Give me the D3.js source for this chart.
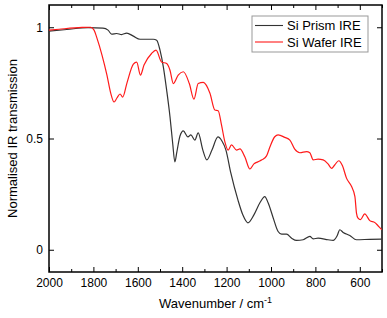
<!DOCTYPE html>
<html>
<head>
<meta charset="utf-8">
<script src="https://cdn.jsdelivr.net/npm/d3@7"></script>
<style>
  body { margin: 0; background: #fff; }
  svg text { font-family: "Liberation Sans", Arial, sans-serif; fill: #000; }
</style>
</head>
<body>
<div id="chart"></div>
<script>
// Chart size and plot frame
const width = 387, height = 318;
const margin = { top: 5, right: 5, bottom: 46, left: 49 };

// Data (wavenumber, normalised transmission)
const prismWave = [2000, 1920, 1824, 1757, 1734, 1718, 1695, 1673, 1650, 1620, 1590, 1530, 1515, 1500, 1485, 1470, 1455, 1443, 1433, 1424, 1410, 1395, 1374, 1361, 1343, 1328, 1307, 1289, 1266, 1239, 1221, 1203, 1181, 1149, 1127, 1104, 1077, 1050, 1028, 1013, 990, 968, 952, 930, 907, 885, 855, 825, 810, 788, 743, 720, 702, 690, 675, 645, 615, 555, 501];
const prismValue = [0.983, 0.990, 0.998, 0.996, 0.987, 0.969, 0.972, 0.967, 0.974, 0.960, 0.946, 0.946, 0.942, 0.897, 0.822, 0.717, 0.598, 0.480, 0.395, 0.440, 0.511, 0.534, 0.507, 0.516, 0.493, 0.525, 0.448, 0.404, 0.448, 0.507, 0.489, 0.448, 0.345, 0.224, 0.157, 0.121, 0.157, 0.211, 0.239, 0.211, 0.143, 0.082, 0.070, 0.070, 0.052, 0.042, 0.045, 0.060, 0.049, 0.052, 0.045, 0.042, 0.063, 0.090, 0.078, 0.064, 0.045, 0.047, 0.048];

const waferWave = [2000, 1955, 1851, 1812, 1797, 1784, 1761, 1739, 1722, 1707, 1694, 1680, 1668, 1649, 1620, 1605, 1588, 1572, 1538, 1518, 1493, 1470, 1455, 1440, 1418, 1395, 1368, 1347, 1328, 1305, 1275, 1253, 1238, 1223, 1208, 1193, 1178, 1155, 1140, 1118, 1095, 1077, 1059, 1041, 1020, 1005, 983, 968, 938, 915, 893, 870, 840, 825, 810, 788, 765, 743, 727, 713, 695, 678, 660, 637, 622, 615, 608, 597, 578, 555, 532, 518, 501];
const waferValue = [0.987, 0.991, 0.999, 1.000, 0.987, 0.951, 0.874, 0.785, 0.704, 0.664, 0.682, 0.700, 0.686, 0.749, 0.834, 0.843, 0.785, 0.830, 0.882, 0.897, 0.844, 0.837, 0.807, 0.747, 0.785, 0.800, 0.747, 0.677, 0.747, 0.752, 0.703, 0.628, 0.625, 0.561, 0.486, 0.448, 0.471, 0.448, 0.453, 0.418, 0.363, 0.386, 0.395, 0.404, 0.422, 0.462, 0.508, 0.516, 0.505, 0.493, 0.452, 0.436, 0.441, 0.436, 0.404, 0.407, 0.404, 0.386, 0.366, 0.381, 0.400, 0.377, 0.322, 0.284, 0.239, 0.165, 0.142, 0.135, 0.161, 0.131, 0.122, 0.108, 0.090];

const xMajorTicks = [2000, 1800, 1600, 1400, 1200, 1000, 800, 600];
const xMinorTicks = [1900, 1700, 1500, 1300, 1100, 900, 700, 500];
const yTicks = [0, 0.5, 1];
const yTickLabels = ["0", "0.5", "1"];

const seriesNames = ["Si Prism IRE", "Si Wafer IRE"];
const seriesColors = ["#333333", "#ff1a1a"];

const series = [
    prismWave.map((w, i) => ({ w: w, v: prismValue[i] })),
    waferWave.map((w, i) => ({ w: w, v: waferValue[i] }))
];

const svg = d3.select("#chart").append("svg")
    .attr("width", width)
    .attr("height", height);

const x = d3.scaleLinear().domain([2000, 500]).range([margin.left, width - margin.right]);
const y = d3.scaleLinear().domain([-0.1, 1.1]).range([height - margin.bottom, margin.top]);

// bottom axis, ticks pointing inward
svg.append("g")
    .attr("transform", `translate(0,${height - margin.bottom})`)
    .call(d3.axisBottom(x).tickValues(xMajorTicks).tickSize(-5).tickPadding(6).tickFormat(d3.format("d")));
svg.append("g")
    .attr("transform", `translate(0,${height - margin.bottom})`)
    .call(d3.axisBottom(x).tickValues(xMinorTicks).tickSize(-3).tickFormat(""));

// top axis
svg.append("g")
    .attr("transform", `translate(0,${margin.top})`)
    .call(d3.axisTop(x).tickValues(xMajorTicks).tickSize(-5).tickFormat(""));
svg.append("g")
    .attr("transform", `translate(0,${margin.top})`)
    .call(d3.axisTop(x).tickValues(xMinorTicks).tickSize(-3).tickFormat(""));

// left and right axes
svg.append("g")
    .attr("transform", `translate(${margin.left},0)`)
    .call(d3.axisLeft(y).tickValues(yTicks).tickSize(-5).tickPadding(6).tickFormat((d, i) => yTickLabels[i]));
svg.append("g")
    .attr("transform", `translate(${width - margin.right},0)`)
    .call(d3.axisRight(y).tickValues(yTicks).tickSize(-5).tickFormat(""));

svg.selectAll(".domain").remove();
svg.selectAll(".tick line").attr("stroke", "#000");
svg.selectAll(".tick text").style("font-size", "12px");

// frame
svg.append("rect")
    .attr("x", margin.left)
    .attr("y", margin.top)
    .attr("width", width - margin.left - margin.right)
    .attr("height", height - margin.top - margin.bottom)
    .attr("fill", "none")
    .attr("stroke", "#000")
    .attr("stroke-width", 1.5);

// curves
const line = d3.line()
    .x(d => x(d.w))
    .y(d => y(d.v))
    .curve(d3.curveMonotoneX);

svg.selectAll("path.spectrum")
    .data(series)
    .enter().append("path")
    .attr("class", "spectrum")
    .attr("d", d => line(d))
    .attr("fill", "none")
    .attr("stroke", (d, i) => seriesColors[i])
    .attr("stroke-width", 1.2);

// legend
const legend = svg.append("g").attr("transform", "translate(252,16)");
legend.append("rect")
    .attr("width", 116).attr("height", 36)
    .attr("fill", "#fff")
    .attr("stroke", "#999")
    .attr("stroke-width", 1);
seriesNames.forEach((name, i) => {
    const ly = 9.5 + i * 16.5;
    legend.append("line")
        .attr("x1", 3).attr("x2", 31)
        .attr("y1", ly).attr("y2", ly)
        .attr("stroke", seriesColors[i])
        .attr("stroke-width", 1.1);
    legend.append("text")
        .attr("x", 35).attr("y", ly + 4.5)
        .style("font-size", "13px")
        .text(name);
});

// axis titles
svg.append("text")
    .attr("x", (margin.left + width - margin.right) / 2)
    .attr("y", 308)
    .attr("text-anchor", "middle")
    .style("font-size", "13px")
    .text("Wavenumber / cm")
    .append("tspan")
    .attr("dy", -5)
    .style("font-size", "9px")
    .text("-1");

svg.append("text")
    .attr("transform", `translate(17,${(margin.top + height - margin.bottom) / 2}) rotate(-90)`)
    .attr("text-anchor", "middle")
    .style("font-size", "13px")
    .text("Normalised IR transmission");
</script>
</body>
</html>
